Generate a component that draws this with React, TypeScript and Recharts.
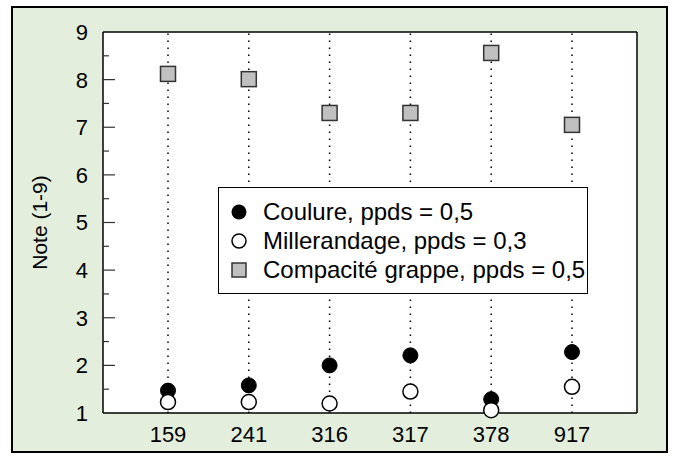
import {
  ComposedChart,
  Scatter,
  XAxis,
  YAxis,
  ReferenceLine,
  CartesianGrid,
  Legend,
} from "recharts";

// values
const categories = ["159", "241", "316", "317", "378", "917"];
const coulure = [1.47, 1.58, 2.0, 2.21, 1.29, 2.28];
const millerandage = [1.23, 1.23, 1.2, 1.45, 1.06, 1.55];
const compacite = [8.12, 8.01, 7.3, 7.3, 8.56, 7.05];
const yTicks = [1, 1.5, 2, 2.5, 3, 3.5, 4, 4.5, 5, 5.5, 6, 6.5, 7, 7.5, 8, 8.5, 9];
const seriesNames = [
  "Coulure, ppds = 0,5",
  "Millerandage, ppds = 0,3",
  "Compacité grappe, ppds = 0,5",
];

const rows = categories.map((name, i) => ({
  name,
  coulure: coulure[i],
  millerandage: millerandage[i],
  compacite: compacite[i],
}));

const FONT = "'Liberation Sans', Arial, sans-serif";

const BlackDot = (p: any) => (
  <circle cx={p.cx} cy={p.cy} r={7.5} fill="#000" stroke="#000" strokeWidth={1} />
);
const WhiteDot = (p: any) => (
  <circle cx={p.cx} cy={p.cy} r={7.5} fill="#fff" stroke="#000" strokeWidth={1.5} />
);
const GreySquare = (p: any) => (
  <rect
    x={p.cx - 7.5}
    y={p.cy - 7.5}
    width={15}
    height={15}
    fill="#c0c0c0"
    stroke="#333"
    strokeWidth={1.5}
  />
);

const LeftTick = ({ x, y, payload }: any) => {
  const v = payload.value;
  const major = Number.isInteger(v);
  const edge = x + 15;
  const showLine = v > 1 && v < 9;
  return (
    <g>
      {showLine && (
        <line x1={edge} x2={edge + (major ? 12 : 6)} y1={y} y2={y} stroke="#333" strokeWidth={1.2} />
      )}
      {major && (
        <text x={x} y={y} dy="0.36em" textAnchor="end" fontSize={22} fill="#000">
          {v}
        </text>
      )}
    </g>
  );
};

const RightTick = ({ x, y, payload }: any) => {
  const v = payload.value;
  if (v <= 1 || v >= 9) return <g />;
  const major = Number.isInteger(v);
  return (
    <line x1={x} x2={x - (major ? 12 : 6)} y1={y} y2={y} stroke="#333" strokeWidth={1.2} />
  );
};

const markerFor = (i: number) => {
  if (i === 0) return <circle cx={9} cy={9} r={7.5} fill="#000" />;
  if (i === 1) return <circle cx={9} cy={9} r={7} fill="#fff" stroke="#000" strokeWidth={1.5} />;
  return <rect x={2} y={2} width={14} height={14} fill="#c0c0c0" stroke="#333" strokeWidth={1.5} />;
};

const LegendBox = () => (
  <div
    style={{
      background: "#fff",
      border: "1px solid #000",
      padding: "9px 0 9px 11px",
      fontFamily: FONT,
      fontSize: 24,
      color: "#000",
    }}
  >
    {seriesNames.map((label, i) => (
      <div key={label} style={{ display: "flex", alignItems: "center", height: 29 }}>
        <svg width={18} height={18} style={{ marginRight: 15 }}>
          {markerFor(i)}
        </svg>
        {label}
      </div>
    ))}
  </div>
);

export default function App() {
  return (
    <div style={{ position: "absolute", left: 0, top: 0, width: 674, height: 456, fontFamily: FONT }}>
      <div
        style={{
          position: "absolute",
          left: 11,
          top: 6,
          width: 653,
          height: 443,
          border: "2px solid #000",
          background: "#e3efdc",
        }}
      />
      <div style={{ position: "absolute", left: 0, top: 0 }}>
        <ComposedChart
          width={674}
          height={456}
          data={rows}
          margin={{ top: 32, right: 7, bottom: 3, left: 20 }}
        >
          <CartesianGrid yAxisId="left" fill="#fff" horizontal={false} vertical={false} />
          {categories.map((c) => (
            <ReferenceLine
              key={c}
              x={c}
              yAxisId="left"
              stroke="#000"
              strokeWidth={1.5}
              strokeDasharray="1.5 5.5"
            />
          ))}
          <ReferenceLine y={9} yAxisId="left" stroke="#000" strokeWidth={1.5} />
          <XAxis
            dataKey="name"
            type="category"
            padding={{ left: 65, right: 65 }}
            height={40}
            tickSize={0}
            tickMargin={13}
            tickLine={false}
            axisLine={{ stroke: "#000", strokeWidth: 1.5 }}
            tick={{ fill: "#000", fontSize: 22 }}
            interval={0}
          />
          <YAxis
            yAxisId="left"
            domain={[1, 9]}
            ticks={yTicks}
            interval={0}
            width={83}
            tickSize={0}
            tickMargin={15}
            tickLine={false}
            axisLine={{ stroke: "#000", strokeWidth: 1.5 }}
            tick={<LeftTick />}
            label={{
              value: "Note (1-9)",
              angle: -90,
              position: "insideLeft",
              offset: 20,
              style: { textAnchor: "middle", fontSize: 21, fill: "#000" },
            }}
          />
          <YAxis
            yAxisId="right"
            orientation="right"
            domain={[1, 9]}
            ticks={yTicks}
            interval={0}
            width={30}
            tickSize={0}
            tickMargin={0}
            tickLine={false}
            axisLine={{ stroke: "#000", strokeWidth: 1.5 }}
            tick={<RightTick />}
          />
          <Scatter yAxisId="left" dataKey="coulure" name={seriesNames[0]} fill="#000" shape={BlackDot} isAnimationActive={false} />
          <Scatter yAxisId="left" dataKey="millerandage" name={seriesNames[1]} fill="#fff" shape={WhiteDot} isAnimationActive={false} />
          <Scatter yAxisId="left" dataKey="compacite" name={seriesNames[2]} fill="#c0c0c0" shape={GreySquare} isAnimationActive={false} />
          <Legend
            layout="vertical"
            align="center"
            verticalAlign="middle"
            content={<LegendBox />}
            wrapperStyle={{ left: 218, top: 187, width: 370 }}
          />
        </ComposedChart>
      </div>
    </div>
  );
}
